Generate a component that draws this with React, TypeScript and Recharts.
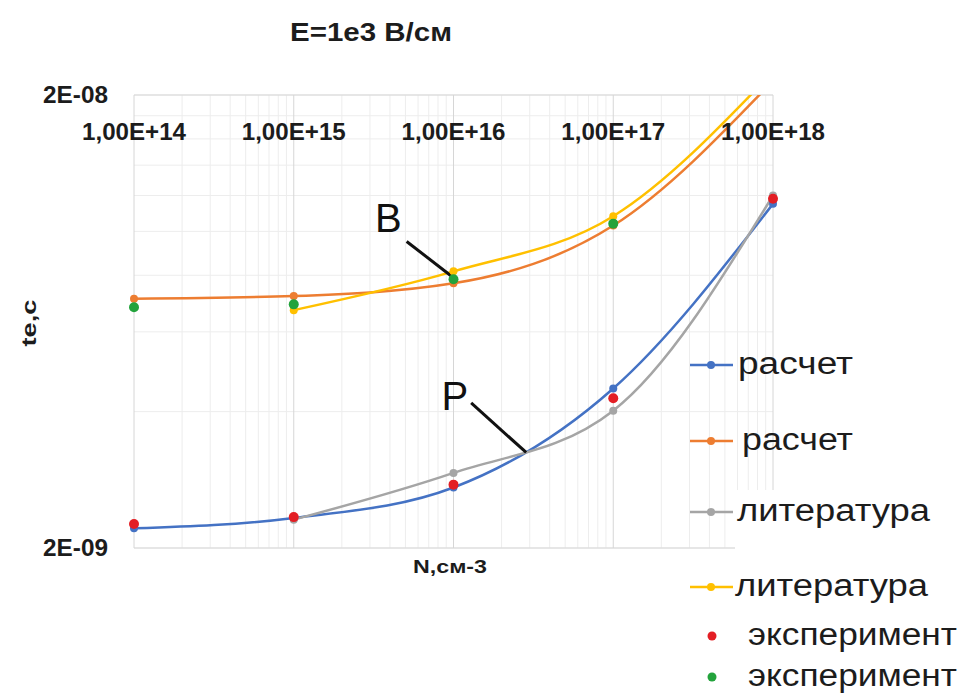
import React from 'react';
import {
  ComposedChart,
  Line,
  XAxis,
  YAxis,
  CartesianGrid,
  Legend,
  ReferenceLine,
  ReferenceDot,
} from 'recharts';

// concentration N, cm^-3
const N_ALL = [1e14, 1e15, 1e16, 1e17, 1e18];
const N_LIT = [1e15, 1e16, 1e17, 1e18];
const N_EXP_HIGH = [1e14, 1e15, 1e16, 1e17];

// te, s
const CALC_LOW = [2.21e-9, 2.33e-9, 2.72e-9, 4.5e-9, 1.15e-8];
const CALC_HIGH = [7.1e-9, 7.2e-9, 7.68e-9, 1.03e-8, 2.15e-8];
const LIT_LOW = [2.31e-9, 2.93e-9, 4.02e-9, 1.2e-8];
const LIT_HIGH = [6.7e-9, 8.16e-9, 1.08e-8, 2.25e-8];
const EXP_LOW = [2.26e-9, 2.34e-9, 2.76e-9, 4.28e-9, 1.18e-8];
const EXP_HIGH = [6.8e-9, 6.9e-9, 7.84e-9, 1.04e-8];

const X_TICKS = [1e14, 1e15, 1e16, 1e17, 1e18];
const Y_TICKS = [2e-9, 2e-8];
const X_MINOR = [14, 15, 16, 17].flatMap((p) => [2, 3, 4, 5, 6, 7, 8, 9].map((m) => m * 10 ** p));
const Y_MINOR = [2, 4, 6, 8, 10, 12, 14, 16, 18, 20].map((k) => k * 1e-9);

// pointer lines for the "B" and "P" curve pairs
const POINTER_B = [{ x: 5.09e15, y: 9.5e-9 }, { x: 1e16, y: 7.9e-9 }];
const POINTER_P = [{ x: 1.29e16, y: 4.18e-9 }, { x: 2.85e16, y: 3.25e-9 }];

const toPoints = (xs: number[], ys: number[]) => ys.map((t, i) => ({ n: xs[i], t }));

const BLUE = '#4472c4';
const ORANGE = '#ed7d31';
const GRAY = '#a5a5a5';
const YELLOW = '#ffc000';
const RED = '#e31e24';
const GREEN = '#23a33c';

const FONT = '"Liberation Sans", Arial, sans-serif';
const TEXT = '#1c1c1c';

// legend rows by series colour: icon centre line and text placement
const LEGEND_LAYOUT: Record<string, { iconY: number; textX: number; w: number }> = {
  [BLUE]: { iconY: 365, textX: 738, w: 115 },
  [ORANGE]: { iconY: 441, textX: 742, w: 111 },
  [GRAY]: { iconY: 512, textX: 737, w: 193 },
  [YELLOW]: { iconY: 587, textX: 735, w: 193 },
  [RED]: { iconY: 636, textX: 748, w: 209 },
  [GREEN]: { iconY: 677, textX: 748, w: 209 },
};

const pow10 = (v: number) => String(Math.abs(Math.round(Math.log10(v)))).padStart(2, '0');

const XTick = ({ x, payload }: any) => (
  <text x={x} y={140} textAnchor="middle" fontFamily={FONT} fontWeight="bold" fontSize={23} fill={TEXT} textLength={104} lengthAdjust="spacingAndGlyphs">
    {`1,00E+${pow10(payload.value)}`}
  </text>
);

const YTick = ({ y, payload }: any) => (
  <text x={108} y={y + 8} textAnchor="end" fontFamily={FONT} fontWeight="bold" fontSize={23} fill={TEXT} textLength={65} lengthAdjust="spacingAndGlyphs">
    {`2E-${pow10(payload.value / 2)}`}
  </text>
);

const LegendBlock = ({ payload }: any) => (
  <svg width={968} height={696} style={{ position: 'absolute', left: 0, top: 0, overflow: 'visible', pointerEvents: 'none' }}>
    <rect x={735} y={490} width={60} height={70} fill="#fff" />
    {(payload || []).map((entry: any, i: number) => {
      const row = LEGEND_LAYOUT[entry.color];
      if (!row) return null;
      const isDot = entry.type === 'circle';
      return (
        <g key={i}>
          {isDot ? (
            <circle cx={712} cy={row.iconY} r={4.5} fill={entry.color} />
          ) : (
            <g>
              <line x1={690} x2={733} y1={row.iconY} y2={row.iconY} stroke={entry.color} strokeWidth={2.5} />
              <circle cx={711} cy={row.iconY} r={4} fill={entry.color} />
            </g>
          )}
          <text
            x={row.textX}
            y={row.iconY + 9}
            fontFamily={FONT}
            fontSize={31}
            fill={TEXT}
            textLength={row.w}
            lengthAdjust="spacingAndGlyphs"
          >
            {entry.value}
          </text>
        </g>
      );
    })}
  </svg>
);

const pointerLabel = (text: string, dx: number, dy: number) => ({ viewBox }: any) => (
  <text x={viewBox.x + dx} y={viewBox.y + dy} textAnchor="end" fontFamily={FONT} fontSize={40} fill="#111">
    {text}
  </text>
);

const lineDot = (color: string, r: number) => ({ r, fill: color, stroke: color, strokeWidth: 0, clipDot: false });

export default function App() {
  return (
    <div style={{ position: 'absolute', left: 0, top: 0, width: 968, height: 696, background: '#fff' }}>
      <ComposedChart width={968} height={696} margin={{ top: 65, right: 195, bottom: 148, left: 0 }}>
        <CartesianGrid stroke="#ededed" strokeWidth={1} verticalValues={X_MINOR} horizontalValues={Y_MINOR} />
        <CartesianGrid stroke="#d6d6d6" strokeWidth={1} verticalValues={X_TICKS} horizontalValues={Y_TICKS} />
        <XAxis
          dataKey="n"
          type="number"
          scale="log"
          domain={[1e14, 1e18]}
          ticks={X_TICKS}
          interval={0}
          orientation="top"
          height={30}
          axisLine={false}
          tickLine={false}
          tick={<XTick />}
          allowDataOverflow
        />
        <YAxis
          dataKey="t"
          type="number"
          scale="log"
          domain={[2e-9, 2e-8]}
          ticks={Y_TICKS}
          interval={0}
          width={134}
          axisLine={false}
          tickLine={false}
          tick={<YTick />}
          allowDataOverflow
        />
        <Line
          data={toPoints(N_ALL, CALC_LOW)}
          dataKey="t"
          name="расчет"
          type="monotone"
          stroke={BLUE}
          strokeWidth={2.5}
          dot={lineDot(BLUE, 4)}
          activeDot={false}
          isAnimationActive={false}
        />
        <Line
          data={toPoints(N_ALL, CALC_HIGH)}
          dataKey="t"
          name="расчет"
          type="monotone"
          stroke={ORANGE}
          strokeWidth={2.5}
          dot={lineDot(ORANGE, 4)}
          activeDot={false}
          isAnimationActive={false}
        />
        <Line
          data={toPoints(N_LIT, LIT_LOW)}
          dataKey="t"
          name="литература"
          type="monotone"
          stroke={GRAY}
          strokeWidth={2.5}
          dot={lineDot(GRAY, 4)}
          activeDot={false}
          isAnimationActive={false}
        />
        <Line
          data={toPoints(N_LIT, LIT_HIGH)}
          dataKey="t"
          name="литература"
          type="monotone"
          stroke={YELLOW}
          strokeWidth={2.5}
          dot={lineDot(YELLOW, 4)}
          activeDot={false}
          isAnimationActive={false}
        />
        <Line
          data={toPoints(N_ALL, EXP_LOW)}
          dataKey="t"
          name="эксперимент"
          legendType="circle"
          stroke={RED}
          strokeWidth={0}
          dot={lineDot(RED, 5)}
          activeDot={false}
          isAnimationActive={false}
        />
        <Line
          data={toPoints(N_EXP_HIGH, EXP_HIGH)}
          dataKey="t"
          name="эксперимент"
          legendType="circle"
          stroke={GREEN}
          strokeWidth={0}
          dot={lineDot(GREEN, 5)}
          activeDot={false}
          isAnimationActive={false}
        />
        <ReferenceLine segment={POINTER_B} stroke="#111" strokeWidth={3} ifOverflow="visible" />
        <ReferenceLine segment={POINTER_P} stroke="#111" strokeWidth={3} ifOverflow="visible" />
        <ReferenceDot x={POINTER_B[0].x} y={POINTER_B[0].y} r={0} stroke="none" label={pointerLabel('B', -5, -9)} />
        <ReferenceDot x={POINTER_P[0].x} y={POINTER_P[0].y} r={0} stroke="none" label={pointerLabel('P', -3, 7)} />
        <Legend
          content={<LegendBlock />}
          wrapperStyle={{ position: 'absolute', left: 0, top: 0, width: 0, height: 0 }}
        />
        <text x={371} y={41} textAnchor="middle" fontFamily={FONT} fontWeight="bold" fontSize={26} fill={TEXT} textLength={162} lengthAdjust="spacingAndGlyphs">
          E=1e3 В/см
        </text>
        <text x={450} y={573} textAnchor="middle" fontFamily={FONT} fontWeight="bold" fontSize={19} fill={TEXT} textLength={74} lengthAdjust="spacingAndGlyphs">
          N,см-3
        </text>
        <text x={36} y={323} transform="rotate(-90 36 323)" textAnchor="middle" fontFamily={FONT} fontWeight="bold" fontSize={21} fill={TEXT} textLength={47} lengthAdjust="spacingAndGlyphs">
          te,c
        </text>
      </ComposedChart>
    </div>
  );
}
